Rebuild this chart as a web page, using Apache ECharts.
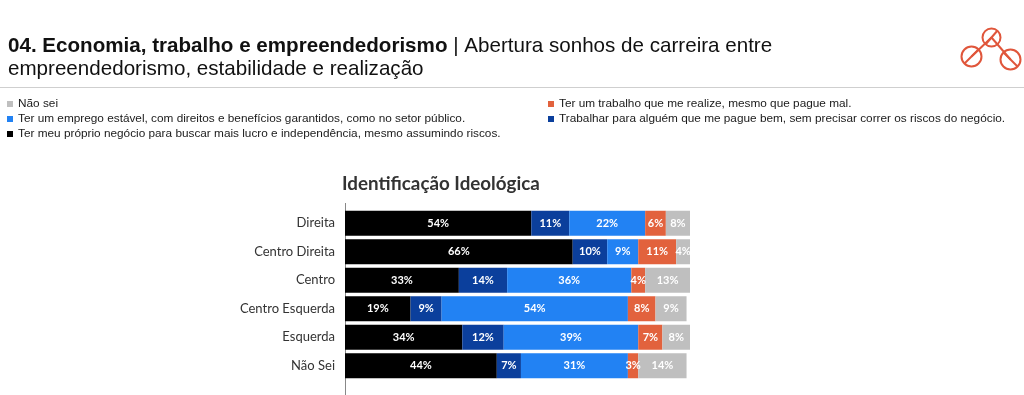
<!DOCTYPE html>
<html>
<head>
<meta charset="utf-8">
<script src="https://cdn.jsdelivr.net/npm/echarts@6/dist/echarts.min.js"></script>
<style>
html,body{margin:0;padding:0;background:#fff;}
#chart{width:1024px;height:395px;}
</style>
</head>
<body>
<div id="chart"></div>
<script>
const categories = ['Direita', 'Centro Direita', 'Centro', 'Centro Esquerda', 'Esquerda', 'Não Sei'];
const proprioNegocio = [54, 66, 33, 19, 34, 44];
const trabalharAlguem = [11, 10, 14, 9, 12, 7];
const empregoEstavel = [22, 9, 36, 54, 39, 31];
const trabalhoRealize = [6, 11, 4, 8, 7, 3];
const naoSei = [8, 4, 13, 9, 8, 14];

const names = {
  naoSei: 'Não sei',
  estavel: 'Ter um emprego estável, com direitos e benefícios garantidos, como no setor público.',
  proprio: 'Ter meu próprio negócio para buscar mais lucro e independência, mesmo assumindo riscos.',
  realize: 'Ter um trabalho que me realize, mesmo que pague mal.',
  alguem: 'Trabalhar para alguém que me pague bem, sem precisar correr os riscos do negócio.'
};
const colors = {
  proprio: '#000000',
  alguem: '#0b3f9c',
  estavel: '#2282f3',
  realize: '#e2623d',
  naoSei: '#bfbfbf'
};

const ARIAL = '"Liberation Sans", Arial, sans-serif';
const chart = echarts.init(document.getElementById('chart'), null, {renderer: 'canvas'});

function barSeries(name, data, color) {
  return {
    name: name,
    type: 'bar',
    stack: 'total',
    data: data,
    barWidth: 25,
    itemStyle: {color: color},
    label: {
      show: true,
      position: 'inside',
      formatter: '{c}%',
      color: '#ffffff',
      fontFamily: 'Lato',
      fontWeight: 'bold',
      fontSize: 11
    },
    emphasis: {disabled: true}
  };
}

const legendText = {fontFamily: ARIAL, fontSize: 11.8, color: '#1a1a1a', lineHeight: 12};

chart.setOption({
  animation: false,
  backgroundColor: '#ffffff',
  title: [
    {
      left: 8, top: 35, padding: 0,
      text: '{b|04. Economia, trabalho e empreendedorismo}{n| | Abertura sonhos de carreira entre}\n{n|empreendedorismo, estabilidade e realização}',
      textStyle: {
        rich: {
          b: {fontFamily: ARIAL, fontWeight: 'bold', fontSize: 20.6, color: '#111', lineHeight: 23},
          n: {fontFamily: ARIAL, fontWeight: 'normal', fontSize: 20.6, color: '#111', lineHeight: 23}
        }
      }
    },
    {
      left: 342, top: 174, padding: 0,
      text: 'Identificação Ideológica',
      textStyle: {fontFamily: 'Lato', fontWeight: 'bold', fontSize: 18.8, color: '#333'}
    }
  ],
  legend: [
    {
      left: 7, top: 98, orient: 'vertical', itemGap: 3, padding: 0,
      icon: 'rect', itemWidth: 6, itemHeight: 6, itemTextGap: 3,
      selectedMode: false,
      data: [names.naoSei, names.estavel, names.proprio],
      textStyle: legendText
    },
    {
      left: 548, top: 98, orient: 'vertical', itemGap: 3, padding: 0,
      icon: 'rect', itemWidth: 6, itemHeight: 6, itemTextGap: 3,
      selectedMode: false,
      data: [names.realize, names.alguem],
      textStyle: legendText
    }
  ],
  grid: {left: 345, width: 345, top: 209, height: 171, containLabel: false},
  xAxis: {
    type: 'value', min: 0, max: 100, show: false
  },
  yAxis: {
    type: 'category',
    data: categories,
    inverse: true,
    axisLine: {show: false},
    axisTick: {show: false},
    axisLabel: {fontFamily: 'Lato', fontSize: 13, color: '#333', margin: 10}
  },
  graphic: [
    {type: 'line', shape: {x1: 0, y1: 87.5, x2: 1024, y2: 87.5}, style: {stroke: '#cfcfcf', lineWidth: 1}},
    {type: 'line', shape: {x1: 345.5, y1: 203, x2: 345.5, y2: 395}, style: {stroke: '#888', lineWidth: 1}},
    {
      type: 'group', left: 959, top: 26,
      children: [
        {type: 'line', shape: {x1: 33, y1: 11, x2: 13, y2: 30}, style: {stroke: '#e0563b', lineWidth: 2}},
        {type: 'line', shape: {x1: 33, y1: 11, x2: 52, y2: 33}, style: {stroke: '#e0563b', lineWidth: 2}},
        {type: 'circle', shape: {cx: 33, cy: 11, r: 9}, style: {fill: 'none', stroke: '#e0563b', lineWidth: 2}},
        {type: 'line', shape: {x1: 39, y1: 4, x2: 27, y2: 18}, style: {stroke: '#e0563b', lineWidth: 2}},
        {type: 'circle', shape: {cx: 13, cy: 30, r: 10}, style: {fill: 'none', stroke: '#e0563b', lineWidth: 2}},
        {type: 'line', shape: {x1: 20, y1: 23, x2: 6, y2: 37}, style: {stroke: '#e0563b', lineWidth: 2}},
        {type: 'circle', shape: {cx: 52, cy: 33, r: 10}, style: {fill: 'none', stroke: '#e0563b', lineWidth: 2}},
        {type: 'line', shape: {x1: 45, y1: 26, x2: 59, y2: 40}, style: {stroke: '#e0563b', lineWidth: 2}}
      ]
    }
  ],
  series: [
    barSeries(names.proprio, proprioNegocio, colors.proprio),
    barSeries(names.alguem, trabalharAlguem, colors.alguem),
    barSeries(names.estavel, empregoEstavel, colors.estavel),
    barSeries(names.realize, trabalhoRealize, colors.realize),
    barSeries(names.naoSei, naoSei, colors.naoSei)
  ]
});
</script>
</body>
</html>
